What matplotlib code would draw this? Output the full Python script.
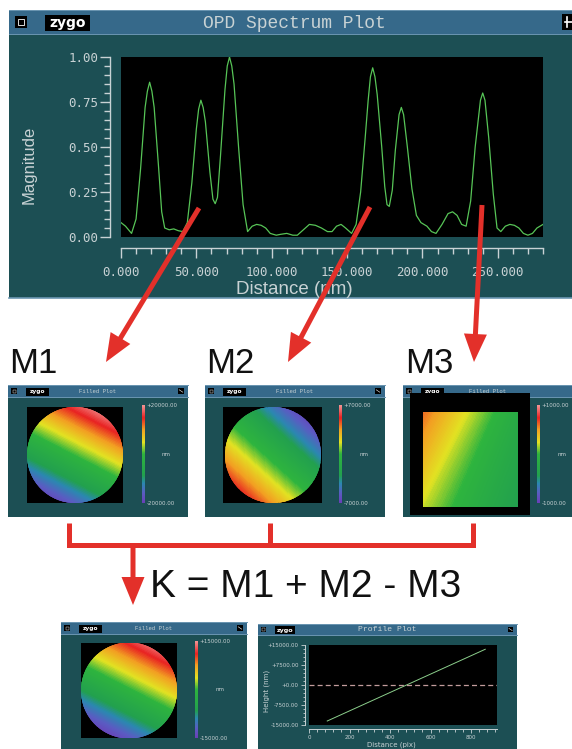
import numpy as np
import matplotlib.pyplot as plt
from matplotlib.colors import LinearSegmentedColormap, Normalize
from matplotlib.cm import ScalarMappable
from matplotlib.patches import Rectangle, Circle, FancyArrow
from matplotlib.ticker import MultipleLocator

W, H = 572, 749

# OPD spectrum
distance_nm = [0, 3, 7, 10, 13, 16, 17.5, 19, 20.5, 22, 25, 27, 29, 32, 35, 38, 41,
               44, 47, 50, 51.5, 53, 54.5, 56, 59, 61, 62.5, 64, 66, 69, 70.5, 72,
               73.5, 75, 78, 81, 84, 87, 90, 93, 96, 99, 103, 106, 110, 114, 117, 121,
               125, 129, 133, 137, 140, 143, 146, 149, 153, 156, 159, 162, 164, 165.5,
               167, 168.5, 170, 173, 175, 176.5, 178, 180, 182, 184.5, 186, 187.5,
               190, 193, 196, 199, 203, 206, 209, 213, 217, 220, 223, 226, 229, 232,
               235, 238.5, 240, 241.5, 244, 247, 249.5, 252, 255, 258, 261, 264, 267,
               270, 273, 276, 280]
magnitude = [0.08, 0.06, 0.02, 0.10, 0.38, 0.72, 0.81, 0.86, 0.81, 0.72, 0.38, 0.14,
             0.05, 0.04, 0.045, 0.035, 0.03, 0.08, 0.30, 0.60, 0.71, 0.76, 0.72, 0.64,
             0.36, 0.21, 0.185, 0.22, 0.45, 0.82, 0.95, 1.00, 0.95, 0.85, 0.50, 0.18,
             0.03, 0.06, 0.07, 0.065, 0.05, 0.02, 0.01, 0.015, 0.02, 0.01, 0.01, 0.04,
             0.07, 0.065, 0.05, 0.03, 0.03, 0.06, 0.07, 0.05, 0.02, 0.07, 0.25, 0.55,
             0.76, 0.89, 0.94, 0.89, 0.79, 0.50, 0.28, 0.18, 0.17, 0.26, 0.48, 0.68,
             0.72, 0.68, 0.50, 0.27, 0.12, 0.08, 0.06, 0.03, 0.02, 0.07, 0.13, 0.14,
             0.12, 0.07, 0.06, 0.20, 0.50, 0.76, 0.80, 0.76, 0.55, 0.24, 0.05, 0.03,
             0.06, 0.07, 0.065, 0.05, 0.02, 0.01, 0.02, 0.05, 0.07]
mag_ticks = [0.0, 0.25, 0.5, 0.75, 1.0]
dist_ticks = [0, 50, 100, 150, 200, 250]

# filled plots: surface heights (nm) at the corners of the square holding
# the measured field, [[top-left, top-right], [bottom-left, bottom-right]]
m1_heights = [[7800, 24200], [-24400, -7800]]
m2_heights = [[-1090, -8600], [7200, -310]]
m3_heights = [[600, -200], [200, -450]]
k_heights = [[5050, 17480], [-18980, -6550]]
m1_range, m2_range, m3_range, k_range = 20000, 7000, 1000, 15000

# profile plot of K
profile_pix = [90, 870]
profile_nm = [-13500, 13400]
height_ticks = [-15000, -7500, 0, 7500, 15000]
height_labels = ['-15000.00', '-7500.00', '+0.00', '+7500.00', '+15000.00']
pix_ticks = [0, 200, 400, 600, 800]

BAR = '#36698a'
BODY = '#1c4f54'
EDGE = '#6b96b2'
FG = '#c8d2d4'
RED = '#e3302a'
LINE = '#57c457'

cmap = LinearSegmentedColormap.from_list('zygo', [
    (0.0, '#6a3fb8'), (0.1, '#5a5cc2'), (0.2, '#2a88b0'), (0.28, '#22a04e'),
    (0.5, '#2eb43e'), (0.62, '#e2e222'), (0.75, '#f2a022'), (0.87, '#e82222'),
    (1.0, '#f29494')])

fig = plt.figure(figsize=(W / 100, H / 100), dpi=100)
fig.patch.set_facecolor('white')


def px_box(x0, y0, x1, y1):
    """Pixel box (top-left origin) to figure fraction."""
    return [x0 / W, 1 - y1 / H, (x1 - x0) / W, (y1 - y0) / H]


bg = fig.add_axes([0, 0, 1, 1])
bg.set_xlim(0, W)
bg.set_ylim(H, 0)
bg.axis('off')
bg.set_zorder(0)

ov = fig.add_axes([0, 0, 1, 1])
ov.set_xlim(0, W)
ov.set_ylim(H, 0)
ov.axis('off')
ov.set_zorder(5)


def window(x0, y0, x1, y1, title, bar_h, title_fs, logo_fs):
    bg.add_patch(Rectangle((x0, y0), x1 - x0, y1 - y0, fc=BODY, ec='none'))
    bg.add_patch(Rectangle((x0, y0), x1 - x0, bar_h, fc=BAR, ec='none'))
    bg.plot([x0, x1], [y0 + bar_h, y0 + bar_h], color=EDGE, lw=0.7)
    bg.plot([x0, x1], [y0 + 0.4, y0 + 0.4], color=EDGE, lw=0.7)
    k = bar_h / 24
    # close icon
    s = 12 * k
    ix, iy = x0 + 6 * k, y0 + 6 * k
    bg.add_patch(Rectangle((ix, iy), s, s, fc='black', ec='none'))
    bg.add_patch(Rectangle((ix + s * 0.25, iy + s * 0.25), s * 0.5, s * 0.5,
                           fc='none', ec='white', lw=0.6 * k))
    # logo
    lx, ly, lw_, lh = x0 + 36 * k, y0 + 5 * k, 45 * k, 16 * k
    bg.add_patch(Rectangle((lx, ly), lw_, lh, fc='black', ec='none'))
    bg.text(lx + lw_ / 2, ly + lh / 2 + 0.5 * k, 'zygo', color='white', fontsize=logo_fs,
            fontweight='bold', ha='center', va='center', family='DejaVu Sans')
    # tool icon
    if x1 < W:
        bg.add_patch(Rectangle((x1 - 8 * k - s, iy), s, s, fc='black', ec='none'))
        bg.plot([x1 - 8 * k - s * 0.8, x1 - 8 * k - s * 0.2],
                [iy + s * 0.3, iy + s * 0.7], color='white', lw=0.8 * k)
    bg.text((x0 + x1) / 2, y0 + bar_h / 2 + k, title, color=FG, fontsize=title_fs,
            ha='center', va='center', family='Liberation Mono')


# ---- top spectrum window ----
window(9, 10, 580, 298, 'OPD Spectrum Plot', 24, 13, 10)
bg.add_patch(Rectangle((562, 14), 12, 16, fc='black', ec='none'))
bg.plot([565, 572], [22, 22], color='white', lw=1.2)
bg.plot([567, 567], [17, 27], color='white', lw=1.2)
bg.plot([9, W], [297.5, 297.5], color=EDGE, lw=1.2)

ax = fig.add_axes(px_box(121, 57, 543, 237))
ax.set_zorder(1)
ax.set_facecolor('black')
ax.plot(distance_nm, magnitude, color=LINE, lw=0.9)
ax.set_xlim(0, 280)
ax.set_ylim(0, 1.0)
for side in ['top', 'right']:
    ax.spines[side].set_visible(False)
for side in ['left', 'bottom']:
    ax.spines[side].set_position(('outward', 8))
    ax.spines[side].set_color(FG)
    ax.spines[side].set_linewidth(1.0)
ax.spines['left'].set_bounds(0, 1)
ax.spines['bottom'].set_bounds(0, 280)
ax.set_xticks(dist_ticks, labels=[f'{v:.3f}' for v in dist_ticks],
              family='DejaVu Sans Mono')
ax.set_yticks(mag_ticks, labels=[f'{v:.2f}' for v in mag_ticks],
              family='DejaVu Sans Mono')
ax.xaxis.set_minor_locator(MultipleLocator(10))
ax.yaxis.set_minor_locator(MultipleLocator(0.05))
ax.tick_params(which='major', length=7, width=1, color=FG, labelcolor=FG, labelsize=9)
ax.tick_params(which='minor', length=4, width=1, color=FG)
ax.tick_params(axis='x', which='major', pad=6)
ax.tick_params(axis='y', which='major', pad=1.5)
ax.set_xlabel('Distance (nm)', color=FG, fontsize=13.5, family='Liberation Sans')
ax.xaxis.set_label_coords((294 - 121) / 422, (237 - 289) / 180)
ax.xaxis.label.set_va('center')
ax.set_ylabel('Magnitude', color=FG, fontsize=12, family='Liberation Sans')
ax.yaxis.set_label_coords((29 - 121) / 422, (237 - 165) / 180)
ax.yaxis.label.set_va('center')


# ---- filled plots ----
def filled_plot(frame, black, field, heights, vrange, cbar, circle=True):
    window(*frame, 'Filled Plot', 12, 4.1, 4.2)
    bx0, by0, bx1, by1 = black
    iax = fig.add_axes(px_box(*black))
    iax.set_zorder(1)
    iax.set_facecolor('black')
    iax.set_xlim(bx0, bx1)
    iax.set_ylim(by1, by0)
    iax.set_xticks([])
    iax.set_yticks([])
    for sp in iax.spines.values():
        sp.set_visible(False)
    fx0, fy0, fx1, fy1 = field
    X, Y = np.meshgrid([fx0, fx1], [fy0, fy1])
    levels = np.linspace(-vrange, vrange, 161)
    filled = iax.contourf(X, Y, np.array(heights, dtype=float), levels=levels,
                          cmap=cmap, vmin=-vrange, vmax=vrange, extend='both',
                          antialiased=False)
    if circle:
        clip = Circle(((fx0 + fx1) / 2, (fy0 + fy1) / 2), (fx1 - fx0) / 2,
                      transform=iax.transData)
        filled.set_clip_path(clip)
    cax = fig.add_axes(px_box(*cbar))
    cax.set_zorder(1)
    sm = ScalarMappable(norm=Normalize(-vrange, vrange), cmap=cmap)
    cb = fig.colorbar(sm, cax=cax)
    cb.outline.set_visible(False)
    cb.set_ticks([vrange, -vrange], labels=[f'+{vrange:.2f}', f'{-vrange:.2f}'])
    cax.tick_params(length=0, pad=1.2, labelsize=4, labelcolor=FG)
    ov.text(cbar[2] + 17, (cbar[1] + cbar[3]) / 2, 'nm', color=FG, fontsize=4,
            ha='left', va='center')


filled_plot((8, 385, 188, 517), (27, 407, 123, 503), (27, 407, 123, 503),
            m1_heights, m1_range, (142, 405, 145, 503))
filled_plot((205, 385, 385, 517), (223, 407, 322, 503), (225, 407, 321, 503),
            m2_heights, m2_range, (339, 405, 342, 503))
filled_plot((403, 385, 572, 517), (410, 393, 530, 515), (423, 412, 518, 507),
            m3_heights, m3_range, (537, 405, 540, 503), circle=False)
filled_plot((61, 622, 247, 760), (81, 643, 177, 738), (81, 643, 177, 738),
            k_heights, k_range, (195, 641, 198, 738))

# ---- profile plot ----
window(258, 624, 517, 760, 'Profile Plot', 11, 5.9, 4.6)
pax = fig.add_axes(px_box(309, 645, 497, 725))
pax.set_zorder(1)
pax.set_facecolor('black')
pax.plot(profile_pix, profile_nm, color='#8ccf8c', lw=0.7)
pax.axhline(0, color='#c29c9c', lw=0.9, ls=(0, (4, 2.5)))
pax.set_xlim(0, 928)
pax.set_ylim(-15000, 15000)
for side in ['top', 'right']:
    pax.spines[side].set_visible(False)
for side in ['left', 'bottom']:
    pax.spines[side].set_position(('outward', 3))
    pax.spines[side].set_color(FG)
    pax.spines[side].set_linewidth(0.7)
pax.set_xticks(pix_ticks)
pax.set_yticks(height_ticks, labels=height_labels)
pax.xaxis.set_minor_locator(MultipleLocator(40))
pax.yaxis.set_minor_locator(MultipleLocator(1500))
pax.tick_params(which='major', length=3, width=0.6, color=FG, labelcolor=FG,
                labelsize=4, pad=1.5)
pax.tick_params(which='minor', length=1.8, width=0.6, color=FG)
pax.set_xlabel('Distance (pix)', color=FG, fontsize=5)
pax.xaxis.set_label_coords(0.44, -(748 - 725) / 80)
pax.xaxis.label.set_va('bottom')
pax.set_ylabel('Height (nm)', color=FG, fontsize=5)
pax.yaxis.set_label_coords(-0.21, 0.42)

# ---- arrows, bracket and labels ----
arrows = [((199, 208), (106, 362)), ((370, 207), (288, 362)),
          ((482, 205), (474, 362)), ((133, 545), (133, 605))]
for (xs, ys), (xe, ye) in arrows:
    ov.add_patch(FancyArrow(xs, ys, xe - xs, ye - ys, width=5, head_width=23,
                            head_length=28, length_includes_head=True,
                            fc=RED, ec='none'))
ov.plot([69, 69, 473, 473], [523, 545, 545, 523], color=RED, lw=3.6,
        solid_joinstyle='miter', solid_capstyle='butt')
ov.plot([270, 270], [523, 545], color=RED, lw=3.6, solid_capstyle='butt')

for name, x in [('M1', 9), ('M2', 206), ('M3', 405)]:
    ov.text(x, 373, name, fontsize=25, family='Liberation Sans', ha='left',
            va='baseline', color='#111111')
ov.text(150, 597, 'K = M1 + M2 - M3', fontsize=28, family='Liberation Sans',
        ha='left', va='baseline', color='#111111')

fig.savefig('out.png', dpi=100, facecolor='white')
